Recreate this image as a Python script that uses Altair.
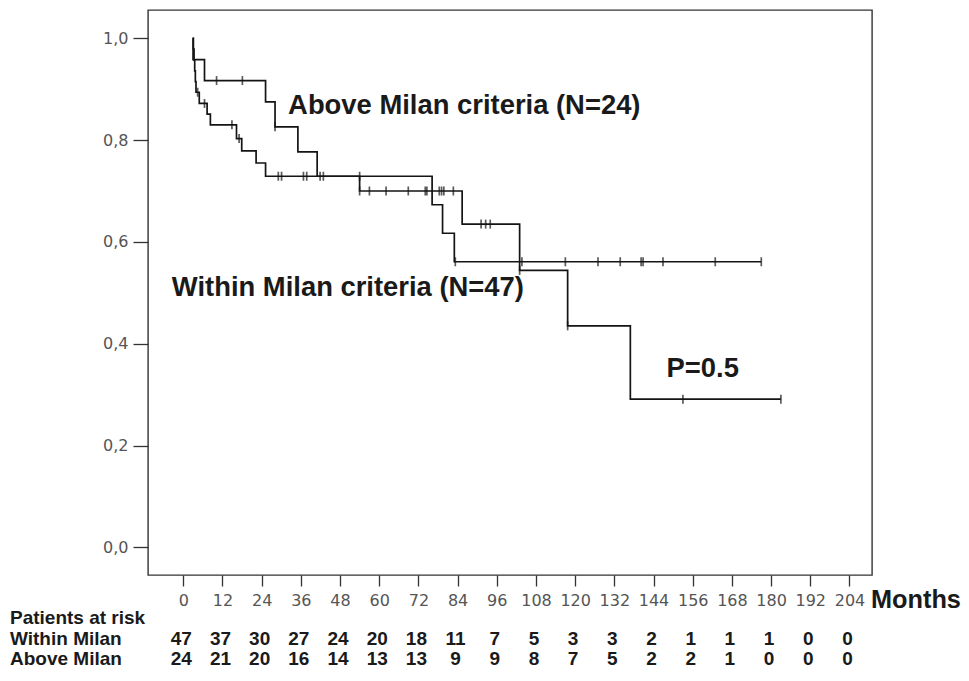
import altair as alt
import pandas as pd

# ---------------- data ----------------
month_ticks = list(range(0, 205, 12))
surv_ticks = [0.0, 0.2, 0.4, 0.6, 0.8, 1.0]

# Kaplan-Meier steps (time in months, survival after the step)
within_t = [2.85, 3.1, 3.3, 3.5, 3.7, 3.9, 4.9, 7.3, 8.3, 16.3, 17.9, 22.3, 25.2,
            54.0, 85.4, 103.0, 117.7, 136.9, 183.0]
within_s = [1.0, 0.979, 0.957, 0.936, 0.915, 0.894, 0.872, 0.851, 0.830, 0.803, 0.779,
            0.755, 0.729, 0.700, 0.635, 0.544, 0.435, 0.291, 0.291]

above_t = [2.85, 3.0, 6.5, 25.2, 28.1, 35.1, 41.0, 76.2, 79.4, 83.0, 177.0]
above_s = [1.0, 0.958, 0.917, 0.875, 0.826, 0.777, 0.729, 0.673, 0.617, 0.561, 0.561]

# censored observations (months)
within_cens = [4.4, 6.5, 14.9, 17.1, 29.1, 30.1, 36.8, 37.8, 41.9, 54.0, 57.0, 62.1,
               68.9, 74.1, 74.6, 78.4, 79.1, 79.8, 82.7, 91.2, 92.6, 94.0, 103.0,
               117.7, 153.0, 183.0]
above_cens = [10.2, 18.1, 28.1, 42.9, 54.0, 83.3, 103.7, 117.0, 127.0, 133.8, 140.2,
              140.8, 146.9, 162.9, 177.0]

# patients at risk
within_risk = [47, 37, 30, 27, 24, 20, 18, 11, 7, 5, 3, 3, 2, 1, 1, 1, 0, 0]
above_risk = [24, 21, 20, 16, 14, 13, 13, 9, 9, 8, 7, 5, 2, 2, 1, 0, 0, 0]

# annotations (text, month, survival)
notes = [
    ("Above Milan criteria (N=24)", 32.1, 0.851),
    ("Within Milan criteria (N=47)", -3.5, 0.494),
    ("P=0.5", 148.0, 0.334),
]
row_titles = ["Patients at risk", "Within Milan", "Above Milan"]


def surv_at(ts, ss, t):
    v = ss[0]
    for ti, si in zip(ts, ss):
        if ti <= t:
            v = si
    return v


curve_df = pd.DataFrame(
    [{"g": "within", "t": t, "s": s} for t, s in zip(within_t, within_s)]
    + [{"g": "above", "t": t, "s": s} for t, s in zip(above_t, above_s)]
)
cens_df = pd.DataFrame(
    [{"g": "within", "t": t, "s": surv_at(within_t, within_s, t)} for t in within_cens]
    + [{"g": "above", "t": t, "s": surv_at(above_t, above_s, t)} for t in above_cens]
)
notes_df = pd.DataFrame(notes, columns=["text", "t", "s"])
risk_w_df = pd.DataFrame({"t": month_ticks, "n": within_risk})
risk_a_df = pd.DataFrame({"t": month_ticks, "n": above_risk})

W, H = 724, 565
xscale = alt.Scale(domain=[-10.8, 210.9], nice=False, zero=False)
yscale = alt.Scale(domain=[-0.0544, 1.0556], nice=False, zero=False)

TICKFONT = "DejaVu Sans"
BOLD = "Liberation Sans"
INK = "#141414"

x_axis = alt.Axis(values=month_ticks, tickSize=11, tickColor="#333", tickWidth=1.3,
                  labelFont=TICKFONT, labelFontSize=16, labelColor="#555",
                  labelPadding=6, domain=False, grid=False, title=None,
                  labelFlush=False)
y_axis = alt.Axis(values=surv_ticks, tickSize=15, tickColor="#333", tickWidth=1.3,
                  labelFont=TICKFONT, labelFontSize=16, labelColor="#555",
                  labelPadding=5, domain=False, grid=False, title=None,
                  labelExpr="replace(format(datum.value, '.1f'), '.', ',')",
                  labelFlush=False)

x_enc = alt.X("t:Q", scale=xscale, axis=x_axis)
y_enc = alt.Y("s:Q", scale=yscale, axis=y_axis)

curves = alt.Chart(curve_df).mark_line(
    interpolate="step-after", color=INK, strokeWidth=1.7
).encode(x=x_enc, y=y_enc, detail="g:N")

cens = alt.Chart(cens_df).mark_tick(
    orient="vertical", size=9, thickness=1.7, color=INK
).encode(x=alt.X("t:Q", scale=xscale), y=alt.Y("s:Q", scale=yscale))

text_style = dict(font=BOLD, fontWeight="bold", baseline="alphabetic", color="#1a1a1a")

note_layer = alt.Chart(notes_df).mark_text(
    fontSize=27.4, align="left", **text_style
).encode(x=alt.X("t:Q", scale=xscale), y=alt.Y("s:Q", scale=yscale), text="text:N")

months_lbl = alt.Chart(pd.DataFrame({"text": ["Months"]})).mark_text(
    fontSize=25.3, align="left", **text_style
).encode(x=alt.value(W - 1), y=alt.value(598), text="text:N")

row_ys = [614, 635, 655]
row_layers = [
    alt.Chart(pd.DataFrame({"text": [txt]})).mark_text(
        fontSize=19, align="left", **text_style
    ).encode(x=alt.value(-138), y=alt.value(ry), text="text:N")
    for txt, ry in zip(row_titles, row_ys)
]

risk_w = alt.Chart(risk_w_df).mark_text(
    fontSize=19, align="center", dx=-2, **text_style
).encode(x=alt.X("t:Q", scale=xscale), y=alt.value(row_ys[1]), text="n:Q")

risk_a = alt.Chart(risk_a_df).mark_text(
    fontSize=19, align="center", dx=-2, **text_style
).encode(x=alt.X("t:Q", scale=xscale), y=alt.value(row_ys[2]), text="n:Q")

chart = alt.layer(
    curves, cens, note_layer, months_lbl, *row_layers, risk_w, risk_a
).properties(
    width=W, height=H,
    autosize=alt.AutoSizeParams(type="none"),
    padding={"left": 140, "top": 2, "right": 89, "bottom": 95},
    background="white",
).configure_view(
    stroke="#333", strokeWidth=1.4
)

chart.save("out.html", embed_options={"renderer": "svg", "actions": False})
